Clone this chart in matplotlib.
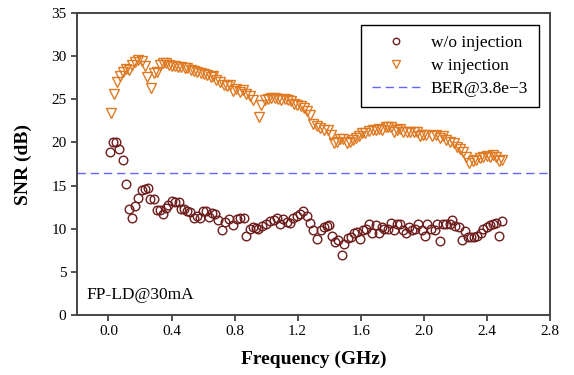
import numpy as np
import matplotlib as mpl
mpl.use('Agg')
import matplotlib.pyplot as plt
from matplotlib.ticker import MultipleLocator

mpl.rcParams['font.family'] = ['Liberation Serif', 'DejaVu Serif']
mpl.rcParams['mathtext.fontset'] = 'stix'

# w/o injection (circles)
f_wo = [0.01, 0.03, 0.05, 0.07, 0.09, 0.11, 0.13, 0.15, 0.17, 0.19,
        0.21, 0.23, 0.25, 0.265, 0.286, 0.305, 0.326, 0.345, 0.362, 0.38,
        0.40, 0.425, 0.445, 0.46, 0.48, 0.50, 0.52, 0.54, 0.56, 0.58,
        0.60, 0.62, 0.64, 0.655, 0.673, 0.698, 0.72, 0.74, 0.764, 0.79,
        0.815, 0.836, 0.857, 0.87, 0.895, 0.916, 0.933, 0.95, 0.973, 1.0,
        1.027, 1.048, 1.07, 1.088, 1.11, 1.13, 1.15, 1.17, 1.195, 1.217,
        1.234, 1.26, 1.28, 1.30, 1.32, 1.346, 1.367, 1.385, 1.40, 1.42,
        1.437, 1.458, 1.48, 1.496, 1.517, 1.54, 1.56, 1.577, 1.596, 1.615,
        1.636, 1.655, 1.674, 1.695, 1.716, 1.733, 1.75, 1.77, 1.79, 1.81,
        1.83, 1.85, 1.87, 1.886, 1.907, 1.926, 1.945, 1.966, 1.987, 2.006,
        2.02, 2.046, 2.07, 2.085, 2.106, 2.12, 2.14, 2.165, 2.18, 2.2,
        2.225, 2.24, 2.26, 2.28, 2.30, 2.32, 2.34, 2.36, 2.377, 2.40,
        2.42, 2.436, 2.457, 2.478, 2.497]
snr_wo = [18.85, 20.1, 20.1, 19.2, 18.0, 15.2, 12.3, 11.3, 12.6, 13.6,
          14.5, 14.6, 14.7, 13.4, 13.4, 12.2, 12.2, 11.7, 12.4, 12.7,
          13.2, 13.1, 13.1, 12.3, 12.3, 12.0, 11.9, 11.2, 11.5, 11.2,
          12.0, 12.0, 11.4, 11.8, 11.7, 11.0, 9.9, 10.8, 11.1, 10.4,
          11.1, 11.2, 11.2, 9.15, 10.0, 10.2, 10.1, 10.0, 10.3, 10.6,
          10.9, 11.0, 11.3, 10.5, 11.1, 10.8, 10.7, 11.3, 11.5, 11.7,
          12.0, 11.5, 10.7, 9.9, 8.8, 9.9, 10.2, 10.3, 10.4, 9.15,
          8.46, 8.7, 6.9, 8.2, 8.9, 9.1, 9.5, 9.65, 8.8, 9.9,
          10.0, 10.5, 9.5, 10.4, 9.5, 10.2, 10.0, 10.0, 10.7, 9.85,
          10.6, 10.6, 9.9, 9.5, 10.2, 9.9, 10.0, 10.5, 9.9, 9.2,
          10.5, 10.0, 9.85, 10.6, 8.6, 10.5, 10.6, 10.5, 11.0, 10.3,
          10.2, 8.7, 9.7, 9.0, 9.0, 9.0, 9.15, 9.5, 10.0, 10.2,
          10.4, 10.5, 10.7, 9.15, 10.9]

# w injection (triangles)
f_w = [0.017, 0.038, 0.055, 0.072, 0.09, 0.11, 0.13, 0.148, 0.17, 0.186,
       0.21, 0.23, 0.245, 0.27, 0.288, 0.31, 0.326, 0.347, 0.364, 0.385,
       0.405, 0.424, 0.444, 0.463, 0.483, 0.50, 0.525, 0.54, 0.563, 0.584,
       0.605, 0.627, 0.648, 0.66, 0.68, 0.71, 0.73, 0.75, 0.77, 0.79,
       0.81, 0.836, 0.853, 0.874, 0.895, 0.916, 0.955, 0.97, 0.99, 1.01,
       1.033, 1.054, 1.075, 1.096, 1.117, 1.14, 1.155, 1.177, 1.198, 1.22,
       1.24, 1.26, 1.28, 1.30, 1.32, 1.345, 1.365, 1.39, 1.41, 1.43,
       1.45, 1.47, 1.49, 1.51, 1.53, 1.55, 1.57, 1.59, 1.61, 1.63,
       1.65, 1.675, 1.695, 1.716, 1.737, 1.76, 1.775, 1.79, 1.81, 1.83,
       1.85, 1.87, 1.894, 1.915, 1.937, 1.96, 1.975, 1.995, 2.017, 2.05,
       2.08, 2.10, 2.12, 2.14, 2.165, 2.19, 2.21, 2.23, 2.25, 2.27,
       2.29, 2.31, 2.33, 2.355, 2.377, 2.40, 2.42, 2.44, 2.46, 2.48,
       2.497]
snr_w = [23.4, 25.6, 27.0, 27.7, 28.2, 28.5, 28.4, 29.0, 29.3, 29.6,
         29.5, 28.9, 27.6, 26.3, 28.0, 28.2, 29.0, 29.2, 29.2, 29.0,
         28.9, 28.9, 28.8, 28.7, 28.6, 28.6, 28.4, 28.3, 28.2, 28.1,
         27.9, 27.8, 27.6, 27.7, 27.3, 27.0, 26.7, 26.5, 26.7, 26.0,
         26.2, 25.9, 26.1, 25.6, 25.4, 24.9, 22.9, 24.4, 24.9, 25.0,
         25.2, 25.2, 25.0, 24.9, 25.0, 24.9, 24.8, 24.5, 24.3, 24.2,
         24.0, 23.6, 23.2, 22.1, 21.9, 21.7, 21.4, 21.5, 20.9, 19.9,
         20.1, 20.4, 20.4, 19.9, 20.1, 20.3, 20.5, 20.7, 21.05, 21.1,
         21.35, 21.4, 21.5, 21.6, 21.5, 21.75, 21.75, 21.75, 21.2, 21.5,
         21.6, 21.2, 21.2, 21.2, 21.2, 21.2, 20.7, 20.85, 20.85, 20.7,
         20.85, 20.5, 20.7, 20.3, 20.1, 19.9, 19.5, 19.3, 18.9, 18.3,
         17.6, 17.8, 18.0, 18.15, 18.3, 18.4, 18.3, 18.5, 18.3, 17.8,
         18.0]

ber_level = 16.5
xticks = [0.0, 0.4, 0.8, 1.2, 1.6, 2.0, 2.4, 2.8]

fig = plt.figure(figsize=(5.74, 3.75), dpi=100)
ax = fig.add_axes([0.134, 0.16, 0.824, 0.805])

ax.plot(f_wo, snr_wo, 'o', ls='none', mfc='none', mec='#6e1c1c', ms=6.2,
        mew=1.0, label='w/o injection')
ax.plot(f_w, snr_w, 'v', ls='none', mfc='none', mec='#e07a22', ms=7.5,
        mew=1.0, label='w injection')
ax.axhline(ber_level, color='#6464ff', ls=(0, (6, 3.5)), lw=1.0,
           label='BER@3.8e\u22123')

ax.set_xlim(-0.2, 2.8)
ax.set_ylim(0, 35)
ax.set_xticks(xticks)
ax.set_xticklabels(['%.1f' % t for t in xticks])
ax.yaxis.set_major_locator(MultipleLocator(5))
ax.tick_params(direction='out', length=4, width=1.2, labelsize=11,
               top=False, right=False, colors='#333333', labelcolor='black')
for s in ax.spines.values():
    s.set_linewidth(1.4)
    s.set_color('#444444')

ax.set_xlabel('Frequency (GHz)', fontsize=14, fontweight='bold', labelpad=9)
ax.set_ylabel('SNR (dB)', fontsize=14, fontweight='bold', labelpad=14)
ax.text(0.02, 0.065, 'FP-LD@30mA', transform=ax.transAxes, fontsize=12.5,
        ha='left', va='center')

leg = ax.legend(loc='upper right', bbox_to_anchor=(0.976, 0.962),
                borderaxespad=0, fontsize=12.5, fancybox=False, framealpha=1,
                edgecolor='black', handlelength=2.8, handletextpad=0.6,
                borderpad=0.6, labelspacing=0.38, markerscale=0.75)
leg.get_frame().set_linewidth(1.0)

fig.savefig('out.png', dpi=100)
